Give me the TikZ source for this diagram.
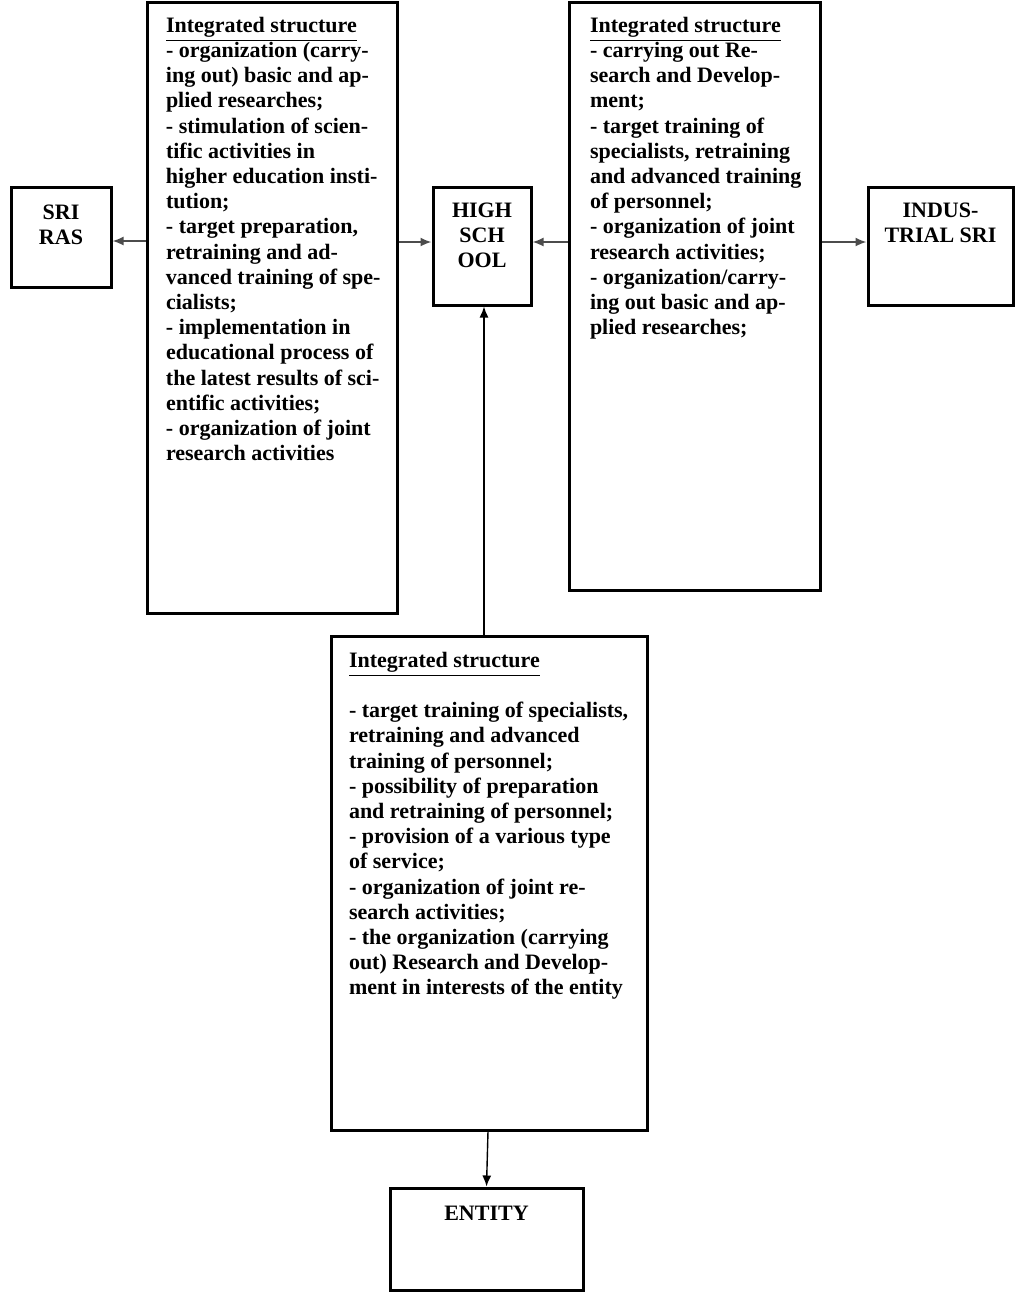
\documentclass[tikz,border=0pt]{standalone}
\usepackage{fontspec}
\setmainfont{Liberation Serif}
\usepackage{tikz}
\usetikzlibrary{arrows.meta}

\newcommand{\framedtext}[4]{%
\begin{minipage}[t][#2][t]{#1}
\fontsize{11}{12.6}\selectfont\bfseries\parindent=0pt
\vspace*{#3}
#4
\end{minipage}}

\tikzset{
  frame/.style={draw, line width=1.5pt, inner sep=0pt},
  link/.style={-{Latex[length=5.5pt,width=4.5pt]}, line width=0.9pt, color=black!70},
  uplink/.style={-{Latex[length=5.5pt,width=4.5pt]}, line width=0.7pt, color=black}
}

\begin{document}
\begin{tikzpicture}[x=0.5pt, y=-0.5pt]
\useasboundingbox (0,0) rectangle (1032,1298);

% small boxes
\node[frame] (sriras) at (61,237) {\framedtext{50pt}{50pt}{9pt}{\centering SRI\\RAS\par}};
\node[frame] (high) at (482,246) {\framedtext{49pt}{59pt}{8pt}{\centering HIGH\\SCH\\OOL\par}};
\node[frame] (indus) at (940.5,246) {\framedtext{72.5pt}{59pt}{8pt}{\centering INDUS-\\TRIAL SRI\par}};
\node[frame] (entity) at (486.5,1239) {\framedtext{96.5pt}{51pt}{9pt}{\centering ENTITY\par}};

% integrated structures
\node[frame] (left) at (272,307.5) {\framedtext{125pt}{305.5pt}{7.5pt}{%
\raggedright\leftskip=9.5pt
\underline{Integrated structure}\\
- organization (carry-\\
ing out) basic and ap-\\
plied researches;\\
- stimulation of scien-\\
tific activities in\\
higher education insti-\\
tution;\\
- target preparation,\\
retraining and ad-\\
vanced training of spe-\\
cialists;\\
- implementation in\\
educational process of\\
the latest results of sci-\\
entific activities;\\
- organization of joint\\
research activities\par}};

\node[frame] (right) at (694.5,296) {\framedtext{125.5pt}{294pt}{7.5pt}{%
\raggedright\leftskip=10.5pt
\underline{Integrated structure}\\
- carrying out Re-\\
search and Develop-\\
ment;\\
- target training of\\
specialists, retraining\\
and advanced training\\
of personnel;\\
- organization of joint\\
research activities;\\
- organization/carry-\\
ing out basic and ap-\\
plied researches;\par}};

\node[frame] (bottom) at (489,883) {\framedtext{158pt}{247pt}{8pt}{%
\raggedright\leftskip=9pt
\underline{Integrated structure}\\[12.6pt]
- target training of specialists,\\
retraining and advanced\\
training of personnel;\\
- possibility of preparation\\
and retraining of personnel;\\
- provision of a various type\\
of service;\\
- organization of joint re-\\
search activities;\\
- the organization (carrying\\
out) Research and Develop-\\
ment in interests of the entity\par}};

% connectors
\draw[link] ([yshift=-2pt]sriras.east -| left.west) -- ([yshift=-2pt]sriras.east);
\draw[link] ([yshift=2pt]high.west -| left.east) -- ([yshift=2pt]high.west);
\draw[link] ([yshift=2pt]high.east -| right.west) -- ([yshift=2pt]high.east);
\draw[link] ([yshift=2pt]indus.west -| right.east) -- ([yshift=2pt]indus.west);
\draw[uplink] ([xshift=1pt]high.south |- bottom.north) -- ([xshift=1pt]high.south);
\draw[uplink] ([xshift=-0.5pt]bottom.south) -- (entity.north);
\end{tikzpicture}
\end{document}
